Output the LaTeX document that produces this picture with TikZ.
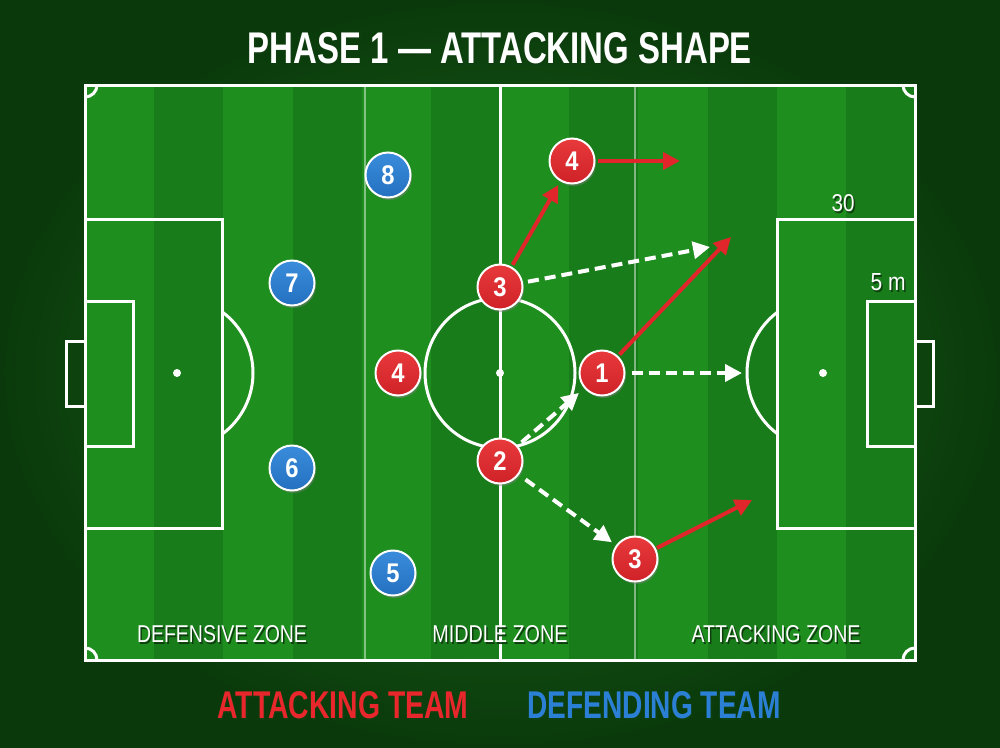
\documentclass[tikz,border=0pt]{standalone}
\usepackage{fontspec}
\setmainfont{Liberation Sans}
\newfontfamily\numfont{Liberation Sans}[FakeStretch=0.88]
\usepackage{graphicx}
\usetikzlibrary{arrows.meta,shadows}
\definecolor{bgmid}{HTML}{1E6C1E}
\definecolor{bgout}{HTML}{0A3A0B}
\definecolor{stripeA}{HTML}{1E8E1F}
\definecolor{stripeB}{HTML}{197C1A}
\definecolor{attred}{HTML}{CF2228}
\definecolor{attredlt}{HTML}{E83A3C}
\definecolor{arrred}{HTML}{E0262B}
\definecolor{defblue}{HTML}{2470C0}
\definecolor{defbluelt}{HTML}{3A8DDC}
\definecolor{legred}{HTML}{E8272C}
\definecolor{legblue}{HTML}{2B80D6}
\definecolor{shadowc}{HTML}{0E3E0F}
\newcommand\shtext[7]{%
  \node[txtbox,text=#6] (#1) at (#2,#3) {\makebox[0pt][l]{\hspace{1.5pt}\raisebox{-2.5pt}[0pt][0pt]{\textcolor{shadowc}{\resizebox{#4}{#5}{#7}}}}\resizebox{#4}{#5}{#7}};}
\begin{document}
\begin{tikzpicture}[x=1pt,y=-1pt,
  txtbox/.style={inner sep=0pt,outer sep=0pt},
  pline/.style={white,line width=3pt},
  zline/.style={white,opacity=0.45,line width=1.6pt},
  player/.style={circle,minimum size=45pt,inner sep=0pt,draw=white,line width=2pt,
    text=white,font=\numfont\bfseries\fontsize{27}{27}\selectfont,
    drop shadow={shadow xshift=1.5pt,shadow yshift=-2.5pt,opacity=0.45}},
  redp/.style={player,top color=attredlt,bottom color=attred},
  bluep/.style={player,top color=defbluelt,bottom color=defblue},
  redarr/.style={draw=arrred,line width=4pt,-{Triangle[length=17pt,width=17pt]}},
  whitearr/.style={draw=white,line width=4pt,dash pattern=on 11pt off 6pt,-{Triangle[length=17pt,width=17pt]}}]
\useasboundingbox (0,0) rectangle (1000,747);
% background
\shade[inner color=bgmid,outer color=bgout] (0,0) rectangle (1000,747);
% pitch stripes
\fill[stripeA] (85,85) rectangle (915,660);
\foreach \i in {1,3,...,11}
  \fill[stripeB] ({85+\i*69.1667},85) rectangle ({85+(\i+1)*69.1667},660);
% zone lines
\draw[zline] (365,85) -- (365,660);
\draw[zline] (635,85) -- (635,660);
% outer lines
\draw[pline] (85,85) rectangle (915,660);
\draw[pline] (500,85) -- (500,660);
\draw[pline] (500,373) circle (75);
\fill[white] (500,373) circle (4);
% left end
\draw[pline] (85,219) rectangle (222,528);
\draw[pline] (85,301) rectangle (133,446);
\draw[pline] (85,341) -- (66,341) -- (66,406) -- (85,406);
\fill[white] (177,373) circle (4);
\begin{scope}
  \clip (222,0) rectangle (400,747);
  \draw[pline] (177,373) circle (76);
\end{scope}
% right end
\draw[pline] (915,219) rectangle (777,528);
\draw[pline] (915,301) rectangle (867,446);
\draw[pline] (915,341) -- (933,341) -- (933,406) -- (915,406);
\fill[white] (823,373) circle (4);
\begin{scope}
  \clip (600,0) rectangle (777,747);
  \draw[pline] (823,373) circle (76);
\end{scope}
% corner arcs
\begin{scope}
  \clip (85,85) rectangle (915,660);
  \draw[pline] (85,85) circle (12);
  \draw[pline] (915,85) circle (12);
  \draw[pline] (85,660) circle (12);
  \draw[pline] (915,660) circle (12);
\end{scope}
% free arrow ends
\coordinate (c4t) at (680,161);
\coordinate (c3w) at (710,247);
\coordinate (c1r) at (731,237);
\coordinate (c1w) at (742,373);
\coordinate (c3r) at (752,500);
% players
\node[redp] (r3) at (500,287) {3};
\node[redp] (r4t) at (572,161) {4};
\node[redp] (r4) at (398,373) {4};
\node[redp] (r1) at (602,373) {1};
\node[redp] (r2) at (500,461) {2};
\node[redp] (r3b) at (635,559) {3};
\node[bluep] (b8) at (388,175) {8};
\node[bluep] (b7) at (292,283) {7};
\node[bluep] (b6) at (292,468) {6};
\node[bluep] (b5) at (393,573) {5};
% arrows
\draw[redarr,shorten <=2pt] (r4t) -- (c4t);
\draw[redarr,shorten <=2pt,shorten >=4pt] (r3) -- (r4t);
\draw[whitearr,shorten <=5pt] (r3) -- (c3w);
\draw[redarr,shorten <=2pt] (r1) -- (c1r);
\draw[whitearr,shorten <=6pt] (r1) -- (c1w);
\draw[whitearr,shorten <=5pt,shorten >=7pt] (r2) -- (r1);
\draw[whitearr,shorten <=8pt,shorten >=5pt] (r2) -- (r3b);
\draw[redarr,shorten <=1pt] (r3b) -- (c3r);
% texts
\shtext{title}{500}{48}{504pt}{31pt}{white}{\bfseries PHASE 1 — ATTACKING SHAPE}
\shtext{dz}{222}{634}{170pt}{17pt}{white}{DEFENSIVE ZONE}
\shtext{mz}{500}{634}{135pt}{17pt}{white}{MIDDLE ZONE}
\shtext{az}{776}{634}{169pt}{17pt}{white}{ATTACKING ZONE}
\shtext{thirty}{843}{203}{23pt}{17pt}{white}{30}
\shtext{fivem}{888}{282}{35pt}{17pt}{white}{5 m}
\shtext{lega}{343}{705}{251pt}{27pt}{legred}{\bfseries ATTACKING TEAM}
\shtext{legd}{654}{705}{253pt}{27pt}{legblue}{\bfseries DEFENDING TEAM}
\end{tikzpicture}
\end{document}
